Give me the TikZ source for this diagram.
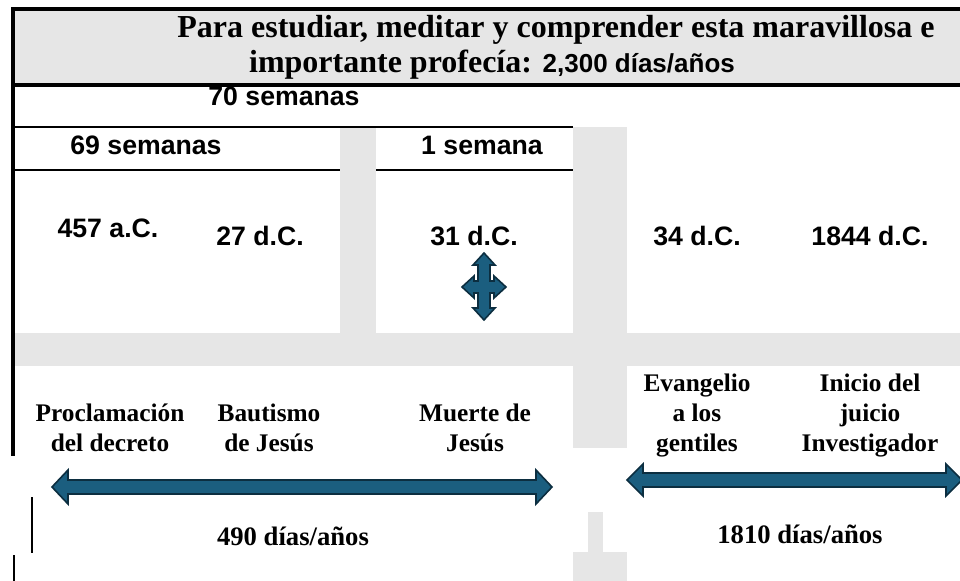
\documentclass[tikz,border=0pt]{standalone}
\usepackage{fontspec}
\setmainfont{Liberation Serif}
\setsansfont{Liberation Sans}
\definecolor{gris}{RGB}{230,230,230}
\definecolor{azul}{RGB}{27,94,127}
\definecolor{azuloscuro}{RGB}{12,46,64}
\begin{document}
\begin{tikzpicture}[x=0.75pt,y=-0.75pt,
		serif/.style={font=\bfseries\fontsize{19}{22.5}\selectfont, align=center, anchor=base, inner sep=0pt},
		sans/.style={font=\sffamily\bfseries\fontsize{20}{24}\selectfont, anchor=base, inner sep=0pt},
		titulo/.style={font=\bfseries\fontsize{24}{28}\selectfont, anchor=base, inner sep=0pt},
		flecha/.style={fill=azul, draw=azuloscuro, line width=1.2pt, line join=miter},
		raya/.style={line width=1.5pt}]
	\useasboundingbox (0,0) rectangle (960,581);
	% fondos grises
	\fill[gris] (13,9) rectangle (968,85);
	\fill[gris] (340,127) rectangle (376,333);
	\fill[gris] (15,333) rectangle (960,366);
	\fill[gris] (573,127) rectangle (627,448);
	\fill[gris] (588,512) rectangle (603,552);
	\fill[gris] (573,552) rectangle (627,581);
	% bordes
	\draw[line width=2.4pt] (968,9) -- (13,9) -- (13,85) -- (968,85);
	\draw[line width=2.4pt] (13,85) -- (13,456);
	\draw[line width=2.2pt] (32,497) -- (32,553);
	\draw[line width=2.2pt] (14,555) -- (14,581);
	\draw[raya] (13,127) -- (573,127);
	\draw[raya] (13,170) -- (340,170);
	\draw[raya] (376,170) -- (573,170);
	% titulo
	\node[titulo] (linea1) at (556,38) {Para estudiar, meditar y comprender esta maravillosa e};
	\node[titulo] (linea2) at (492,73) {importante profecía: {\sffamily\fontsize{19.5}{24}\selectfont 2,300 días/años}};
	% semanas
	\node[sans] (s70) at (284,106) {70 semanas};
	\node[sans] (s69) at (146,155) {69 semanas};
	\node[sans] (s1) at (482,155) {1 semana};
	% fechas
	\node[sans] (a457) at (108,237) {457 a.C.};
	\node[sans] (d27) at (260,245) {27 d.C.};
	\node[sans] (d31) at (474,245) {31 d.C.};
	\node[sans] (d34) at (697,245) {34 d.C.};
	\node[sans] (d1844) at (870,245) {1844 d.C.};
	% flecha en cruz
	\draw[flecha] (484,253) -- (495,265) -- (490,265) -- (490,281) -- (494,281) -- (494,276)
		-- (506,287) -- (494,298) -- (494,293) -- (490,293) -- (490,308) -- (495,308)
		-- (484,320) -- (473,308) -- (478,308) -- (478,293) -- (474,293) -- (474,298)
		-- (462,287) -- (474,276) -- (474,281) -- (478,281) -- (478,265) -- (473,265) -- cycle;
	% sucesos
	\node[serif] (proclamacion) at (110,451) {Proclamación\\del decreto};
	\node[serif] (bautismo) at (269,451) {Bautismo\\de Jesús};
	\node[serif] (muerte) at (475,451) {Muerte de\\Jesús};
	\node[serif] (evangelio) at (697,451) {Evangelio\\a los\\gentiles};
	\node[serif] (inicio) at (870,451) {Inicio del\\juicio\\Investigador};
	% flechas dobles
	\draw[flecha] (52,487) -- (68,470) -- (68,480) -- (536,480) -- (536,470) -- (552,487)
		-- (536,504) -- (536,494) -- (68,494) -- (68,504) -- cycle;
	\draw[flecha] (627,480) -- (643,464) -- (643,473) -- (946,473) -- (946,464) -- (962,480)
		-- (946,496) -- (946,487) -- (643,487) -- (643,496) -- cycle;
	\node[serif, font=\bfseries\fontsize{20}{24}\selectfont] (p490) at (293,545) {490 días/años};
	\node[serif, font=\bfseries\fontsize{20}{24}\selectfont] (p1810) at (800,543) {1810 días/años};
\end{tikzpicture}
\end{document}
